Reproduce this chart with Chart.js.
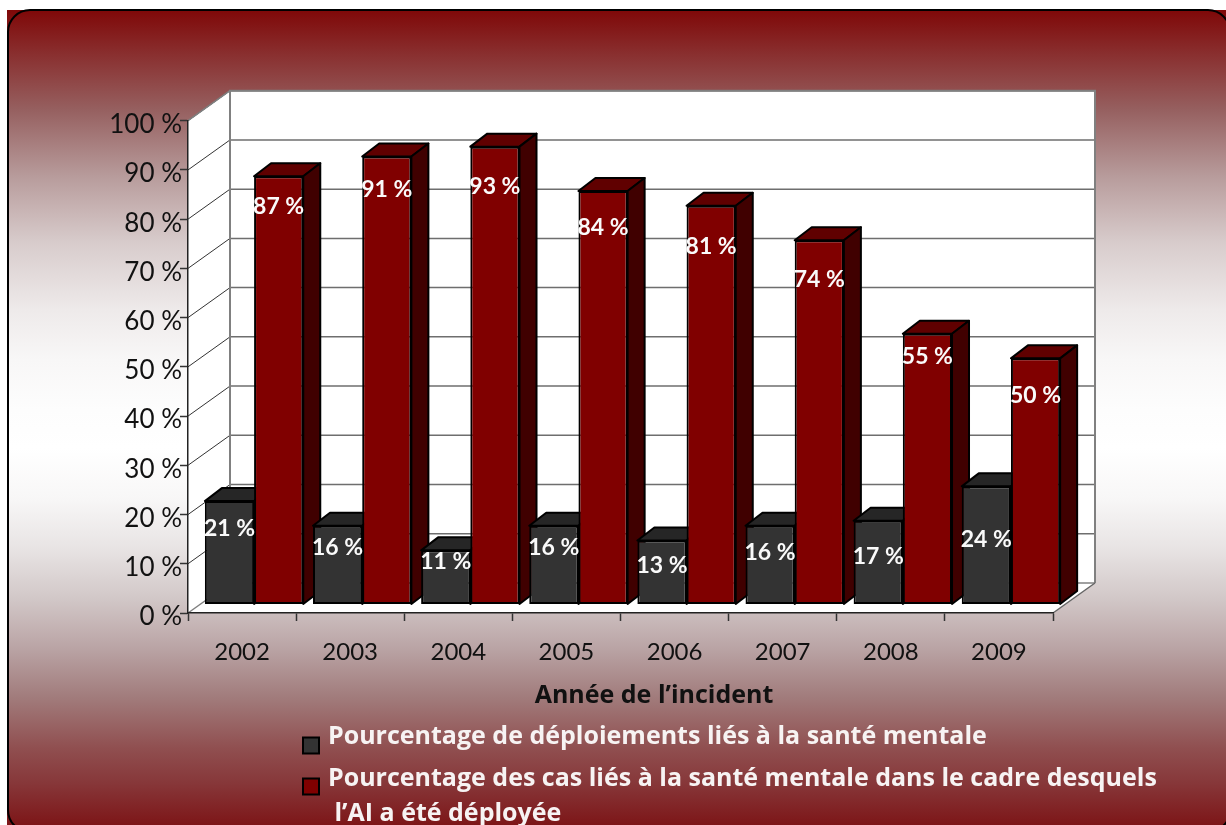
<!DOCTYPE html>
<html lang="fr">
<head>
<meta charset="utf-8">
<title>Année de l’incident</title>
<script src="https://cdn.jsdelivr.net/npm/chart.js@4"></script>
<style>
  html, body { margin: 0; padding: 0; background: #fff; overflow: hidden; }
  canvas { display: block; }
</style>
</head>
<body>
<canvas id="incidentChart" width="1226" height="825"></canvas>
<script>
// chart values
const years = ['2002', '2003', '2004', '2005', '2006', '2007', '2008', '2009'];
const deploymentPct = [21, 16, 11, 16, 13, 16, 17, 24];
const mentalHealthCasesPct = [87, 91, 93, 84, 81, 74, 55, 50];
const deploymentName = 'Pourcentage de déploiements liés à la santé mentale';
const casesNameLines = ['Pourcentage des cas liés à la santé mentale dans le cadre desquels', ' l’AI a été déployée'];
const axisTitle = 'Année de l’incident';

// how far under the bar top each hand placed label sits, in px
const deploymentLabelDrop = [27, 22, 11, 22, 25, 27, 36, 53];
const casesLabelDrop = [30, 33, 40, 37, 41, 39, 23, 37];

const labelFont = 'Lato, sans-serif';
const textFont = '"Open Sans", sans-serif';
const wallDepth = { x: 42, y: 30 };
const barDepth = { x: 17, y: 13 };
const barShift = { x: 12, y: -8.5 };

const faces = [
  { front: '#333333', top: '#262626', side: '#191919' },
  { front: '#800000', top: '#600000', side: '#400000' }
];

const poly = (ctx, pts, fill, stroke, width) => {
  ctx.beginPath();
  pts.forEach((p, i) => i ? ctx.lineTo(p[0], p[1]) : ctx.moveTo(p[0], p[1]));
  ctx.closePath();
  if (fill) { ctx.fillStyle = fill; ctx.fill(); }
  if (stroke) { ctx.strokeStyle = stroke; ctx.lineWidth = width; ctx.stroke(); }
};

const line = (ctx, x1, y1, x2, y2, color, width) => {
  ctx.beginPath();
  ctx.moveTo(x1, y1);
  ctx.lineTo(x2, y2);
  ctx.strokeStyle = color;
  ctx.lineWidth = width;
  ctx.stroke();
};

// page background and the box walls behind the bars
const backdrop = {
  id: 'backdrop',
  beforeDraw(chart) {
    const { ctx, chartArea: a, scales } = chart;
    const d = wallDepth;
    const h = 825;
    const grad = ctx.createLinearGradient(0, 0, 0, h);
    [[10, '#7f0808'], [110, '#966060'], [177, '#b89c9c'], [243, '#d8cccc'], [310, '#eeeaea'], [360, '#f8f7f7'],
     [410, '#fdfdfd'], [448, '#ffffff'], [498, '#f8f7f7'], [548, '#e8e4e4'], [598, '#d2c8c8'], [648, '#baa4a5'],
     [698, '#a17b7b'], [748, '#904f50'], [782, '#87383a'], [825, '#7d1618']]
      .forEach(s => grad.addColorStop(s[0] / h, s[1]));
    ctx.save();
    ctx.fillStyle = grad;
    ctx.fillRect(7, 10, 1219, 815);
    ctx.beginPath();
    ctx.roundRect(8, 10, 1222, 822, 22);
    ctx.strokeStyle = '#000';
    ctx.lineWidth = 2;
    ctx.stroke();

    // left wall, back wall, floor
    poly(ctx, [[a.left, a.top], [a.left + d.x, a.top - d.y], [a.left + d.x, a.bottom - d.y], [a.left, a.bottom]], '#fff');
    poly(ctx, [[a.left + d.x, a.top - d.y], [a.right + d.x, a.top - d.y], [a.right + d.x, a.bottom - d.y], [a.left + d.x, a.bottom - d.y]], '#fff');
    poly(ctx, [[a.left, a.bottom], [a.right, a.bottom], [a.right + d.x, a.bottom - d.y], [a.left + d.x, a.bottom - d.y]], '#fff');

    scales.y.ticks.forEach(t => {
      const y = scales.y.getPixelForValue(t.value);
      if (t.value > 0) {
        line(ctx, a.left, y, a.left + d.x, y - d.y, '#333', 1);
        line(ctx, a.left + d.x, y - d.y, a.right + d.x, y - d.y, '#6e6e6e', 1.5);
      } else {
        line(ctx, a.left, y, a.left + d.x, y - d.y, '#808080', 1.5);
        line(ctx, a.left + d.x, y - d.y, a.right + d.x, y - d.y, '#808080', 1.5);
      }
    });
    line(ctx, a.left + d.x, a.top - d.y, a.left + d.x, a.bottom - d.y, '#808080', 2);
    line(ctx, a.right + d.x, a.top - d.y, a.right + d.x, a.bottom - d.y, '#808080', 2);
    line(ctx, a.left + d.x - 1, a.top - d.y, a.right + d.x + 1, a.top - d.y, '#808080', 2);
    line(ctx, a.left, a.top, a.left + d.x, a.top - d.y, '#808080', 1.5);
    line(ctx, a.right, a.bottom, a.right + d.x, a.bottom - d.y, '#666', 1.5);
    ctx.restore();
  }
};

// bars go left to right, category by category, so that they overlap as boxes do
const bars3d = {
  id: 'bars3d',
  beforeDatasetsDraw(chart) {
    const { ctx } = chart;
    const d = barDepth;
    ctx.save();
    ctx.translate(barShift.x, barShift.y);
    years.forEach((year, i) => {
      chart.data.datasets.forEach((ds, k) => {
        const bar = chart.getDatasetMeta(k).data[i];
        const { x, y, base, width } = bar.getProps(['x', 'y', 'base', 'width']);
        const l = x - width / 2;
        const r = x + width / 2;
        ctx.lineJoin = 'round';
        poly(ctx, [[l, y], [l + d.x, y - d.y], [r + d.x, y - d.y], [r, y]], faces[k].top, '#000', 2);
        poly(ctx, [[r, y], [r + d.x, y - d.y], [r + d.x, base - d.y], [r, base]], faces[k].side, '#000', 2);
        bar.draw(ctx);
      });
    });
    ctx.restore();
    return false;
  },
  // returning false above also skips afterDatasetsDraw, so the labels go here
  afterDraw(chart) {
    const { ctx } = chart;
    const drops = [deploymentLabelDrop, casesLabelDrop];
    ctx.save();
    ctx.fillStyle = '#fafafa';
    ctx.font = '700 23px ' + labelFont;
    ctx.textAlign = 'center';
    ctx.textBaseline = 'middle';
    chart.data.datasets.forEach((ds, k) => {
      chart.getDatasetMeta(k).data.forEach((bar, i) => {
        ctx.fillText(ds.data[i] + ' %', bar.x + barShift.x, bar.y + barShift.y + drops[k][i]);
      });
    });
    ctx.restore();
  }
};

// axis title and wrapped legend
const captions = {
  id: 'captions',
  afterDraw(chart) {
    const { ctx } = chart;
    ctx.save();
    ctx.textBaseline = 'alphabetic';
    ctx.textAlign = 'center';
    ctx.fillStyle = '#111';
    ctx.font = '700 25px ' + textFont;
    ctx.fillText(axisTitle, 654, 703);

    const swatch = (y, color) => {
      ctx.fillStyle = color;
      ctx.fillRect(303, y, 16, 16);
      ctx.strokeStyle = '#000';
      ctx.lineWidth = 2;
      ctx.strokeRect(303, y, 16, 16);
    };
    swatch(737.5, faces[0].front);
    swatch(778.5, faces[1].front);

    ctx.textAlign = 'left';
    ctx.fillStyle = '#f7f3f3';
    ctx.font = '700 25px ' + textFont;
    ctx.fillText(deploymentName, 328, 744);
    ctx.fillText(casesNameLines[0], 328, 786);
    ctx.fillText(casesNameLines[1], 328, 821);
    ctx.restore();
  }
};

new Chart(document.getElementById('incidentChart').getContext('2d'), {
  type: 'bar',
  plugins: [backdrop, bars3d, captions],
  data: {
    labels: years,
    datasets: [
      { label: deploymentName, data: deploymentPct, backgroundColor: faces[0].front, borderColor: '#000', borderWidth: 2, borderSkipped: false },
      { label: casesNameLines.join(' '), data: mentalHealthCasesPct, backgroundColor: faces[1].front, borderColor: '#000', borderWidth: 2, borderSkipped: false }
    ]
  },
  options: {
    responsive: false,
    animation: false,
    layout: { padding: { left: 0, top: 120.7, right: 173, bottom: 0 } },
    datasets: { bar: { categoryPercentage: 0.91, barPercentage: 1 } },
    plugins: { legend: { display: false }, tooltip: { enabled: false } },
    scales: {
      x: {
        afterFit: s => { s.height = 212; },
        border: { color: '#222', width: 1.5 },
        grid: { drawOnChartArea: false, drawTicks: true, tickLength: 8, tickColor: '#333', tickWidth: 1.5 },
        ticks: { color: '#111', padding: 17, maxRotation: 0, font: { family: labelFont, size: 24 } }
      },
      y: {
        min: 0,
        max: 100,
        afterFit: s => { s.width = 188; },
        border: { color: '#222', width: 1.5 },
        grid: { drawOnChartArea: false, drawTicks: true, tickLength: 8, tickColor: '#333', tickWidth: 1.5 },
        ticks: { stepSize: 10, color: '#111', padding: -2, labelOffset: 4, font: { family: labelFont, size: 26 }, callback: v => v + ' %' }
      }
    }
  }
});
</script>
</body>
</html>
